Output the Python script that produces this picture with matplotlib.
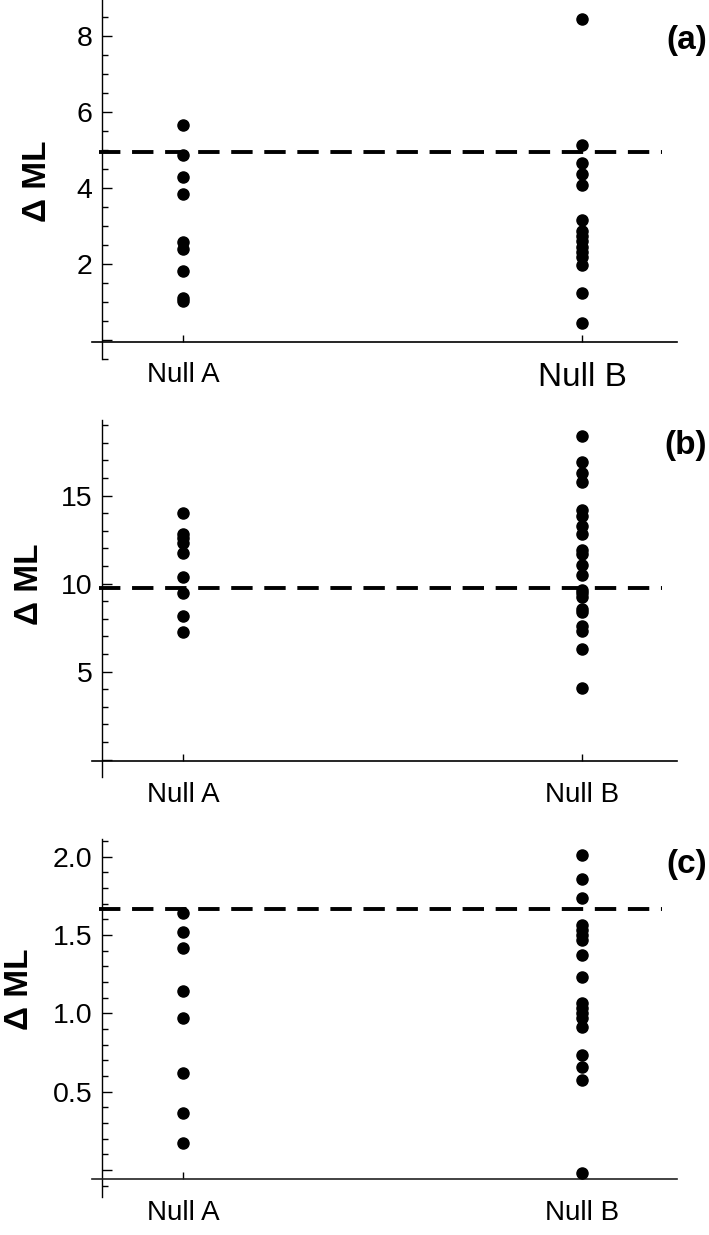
import numpy as np
import matplotlib
matplotlib.use("Agg")
import matplotlib.pyplot as plt

plt.rcParams['font.family'] = ['Liberation Sans', 'DejaVu Sans']

categories = ["Null A", "Null B"]

# panel (a)
a_nullA = [5.67, 4.88, 4.30, 3.85, 2.59, 2.40, 1.82, 1.12, 1.02]
a_nullB = [8.47, 5.14, 4.66, 4.37, 4.09, 3.17, 2.86, 2.73, 2.60, 2.46, 2.33,
           2.20, 1.98, 1.24, 0.45]
a_thresh = 4.95

# panel (b)
b_nullA = [14.03, 12.82, 12.58, 12.33, 11.73, 10.40, 9.45, 8.16, 7.27]
b_nullB = [18.39, 16.93, 16.27, 15.80, 14.19, 13.85, 13.28, 12.81, 11.90,
           11.69, 11.08, 10.52, 9.64, 9.45, 9.26, 8.55, 8.38, 7.60, 7.30,
           6.29, 4.05]
b_thresh = 9.77

# panel (c)
c_nullA = [1.64, 1.52, 1.415, 1.144, 0.968, 0.617, 0.362, 0.170]
c_nullB = [2.01, 1.855, 1.734, 1.563, 1.532, 1.50, 1.468, 1.372, 1.234,
           1.064, 1.032, 1.0, 0.97, 0.915, 0.734, 0.659, 0.574, -0.02]
c_thresh = 1.668

a_ticks = [0, 2, 4, 6, 8]
b_ticks = [0, 5, 10, 15]
c_ticks = [0, 0.5, 1.0, 1.5, 2.0]

fig = plt.figure(figsize=(7.09, 12.35), dpi=100)

panels = [
    # (rect, nullA, nullB, thresh, ylim, ticks, ticklabels, minor step, x-axis y, tag, tag y, ylabel x, ylabel y)
    ([0.1298, 0.7093, 0.8251, 0.2907], a_nullA, a_nullB, a_thresh, (-0.5, 8.96),
     a_ticks, ["", "2", "4", "6", "8"], 0.5, -0.04, "(a)", 41, 38, 181),
    ([0.1298, 0.3711, 0.8251, 0.2888], b_nullA, b_nullB, b_thresh, (-0.97, 19.3),
     b_ticks, ["", "5", "10", "15"], 1.0, -0.06, "(b)", 446, 30, 584),
    ([0.1298, 0.0310, 0.8251, 0.2894], c_nullA, c_nullB, c_thresh, (-0.17, 2.11),
     c_ticks, ["", "0.5", "1.0", "1.5", "2.0"], 0.1, -0.057, "(c)", 864, 19, 989),
]

for i, (rect, nA, nB, th, ylim, ticks, tlabels, mstep, xaxis_y, tag, tag_y, lab_x, lab_y) in enumerate(panels):
    ax = fig.add_axes(rect)
    ax.set_xlim(0.772, 2.238)
    ax.set_ylim(*ylim)

    ax.plot([1] * len(nA), nA, 'o', color='black', ms=8, zorder=3)
    ax.plot([2] * len(nB), nB, 'o', color='black', ms=8, zorder=3)
    ax.hlines(th, 0.79, 2.2, colors='black', lw=2.8, linestyles=(0, (5.5, 3)), zorder=2)

    for s in ['top', 'right']:
        ax.spines[s].set_visible(False)
    ax.spines['left'].set_position(('data', 0.797))
    ax.spines['bottom'].set_position(('data', xaxis_y))
    ax.spines['left'].set_linewidth(1.0)
    ax.spines['bottom'].set_linewidth(1.2)
    ax.spines['bottom'].set_color('#222222' if i == 2 else 'black')

    ax.set_yticks(ticks)
    ax.set_yticklabels(tlabels)
    lo = np.ceil(ylim[0] / mstep) * mstep
    ax.set_yticks(np.arange(lo, ylim[1], mstep), minor=True)
    ax.tick_params(axis='y', which='major', direction='in', length=7, width=1,
                   labelsize=20.5, pad=7)
    ax.tick_params(axis='y', which='minor', direction='in', length=4, width=1)

    ax.set_xticks([1, 2])
    ax.set_xticklabels(categories)
    ax.tick_params(axis='x', which='major', direction='in', length=5, width=1,
                   labelsize=20, pad=15)
    if i == 0:
        ax.get_xticklabels()[1].set_fontsize(24)

    fig.text(lab_x / 709, 1 - lab_y / 1235, "Δ ML", rotation=90, ha='center',
             va='center', fontsize=24, fontweight='bold')
    fig.text(707 / 709, 1 - tag_y / 1235, tag, ha='right', va='center',
             fontsize=24, fontweight='bold')

fig.savefig("out.png", dpi=100)
